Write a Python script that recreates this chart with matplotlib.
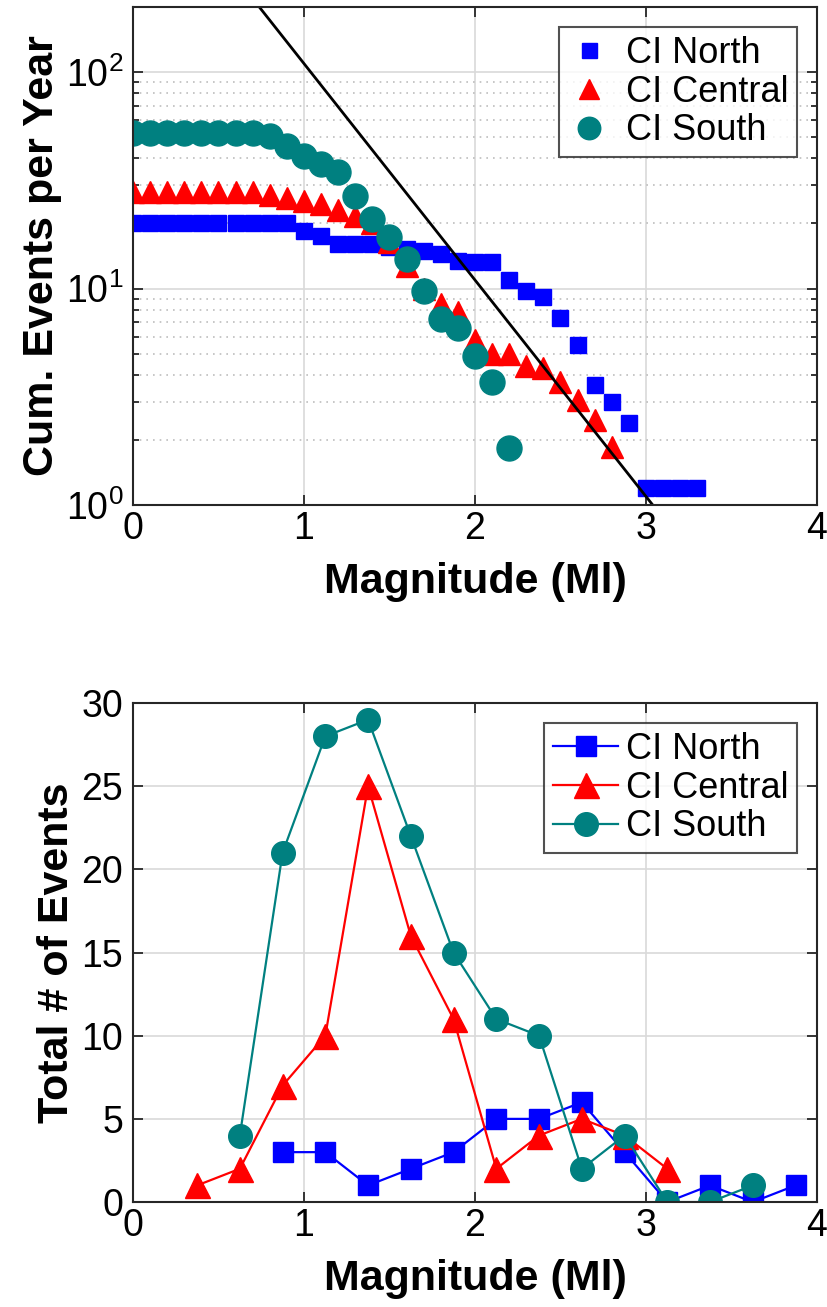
import numpy as np
import matplotlib
matplotlib.use("Agg")
import matplotlib.pyplot as plt
from matplotlib.ticker import LogLocator, NullFormatter

plt.rcParams['font.family'] = ['Liberation Sans', 'DejaVu Sans']
plt.rcParams['mathtext.fontset'] = 'custom'
plt.rcParams['mathtext.rm'] = 'Liberation Sans'

# --- top panel: cumulative events per year, magnitude bins of 0.1 ---
mag_north = np.round(np.arange(0.0, 3.31, 0.1), 1)
cum_north = [20, 20, 20, 20, 20, 20, 20, 20, 20, 20,
             18.5, 17.5, 16, 16, 16, 15.6, 15.3, 14.9, 14.5, 13.4,
             13.3, 13.3, 11, 9.7, 9.1, 7.3, 5.5, 3.6, 3.0, 2.4,
             1.2, 1.2, 1.2, 1.2]

mag_central = np.round(np.arange(0.0, 2.81, 0.1), 1)
cum_central = [28, 28, 28, 28, 28, 28, 28, 28, 27.2, 26.3,
               25.5, 24.6, 23, 21.7, 20, 16.4, 12.7, 10, 8.5, 7.8,
               5.8, 5.0, 5.0, 4.4, 4.3, 3.7, 3.07, 2.48, 1.86]

mag_south = np.round(np.arange(0.0, 2.21, 0.1), 1)
cum_south = [52.6, 52.6, 52.6, 52.6, 52.6, 52.6, 52.6, 52.6, 50.5, 45.8,
             41.2, 37.8, 34.7, 26.9, 21, 17.3, 13.7, 9.7, 7.2, 6.6,
             4.9, 3.7, 1.84]

# Gutenberg-Richter reference line: log10(N) = a - b*M
gr_a = 3.04
gr_b = 1.0
gr_mag = [0.0, 4.0]

# --- bottom panel: event counts per 0.25 magnitude bin ---
bin_north = [0.875, 1.125, 1.375, 1.625, 1.875, 2.125, 2.375, 2.625, 2.875,
             3.125, 3.375, 3.625, 3.875]
cnt_north = [3, 3, 1, 2, 3, 5, 5, 6, 3, 0, 1, 0, 1]

bin_central = [0.375, 0.625, 0.875, 1.125, 1.375, 1.625, 1.875, 2.125, 2.375,
               2.625, 2.875, 3.125]
cnt_central = [1, 2, 7, 10, 25, 16, 11, 2, 4, 5, 4, 2]

bin_south = [0.625, 0.875, 1.125, 1.375, 1.625, 1.875, 2.125, 2.375, 2.625,
             2.875, 3.125, 3.375, 3.625]
cnt_south = [4, 21, 28, 29, 22, 15, 11, 10, 2, 4, 0, 0, 1]

labels = ["CI North", "CI Central", "CI South"]
c_north = (0, 0, 1)
c_central = (1, 0, 0)
c_south = (0, 0.5, 0.5)

fig = plt.figure(figsize=(8.28, 13.07), dpi=100)
ax1 = fig.add_axes([0.1606, 0.6136, 0.826, 0.381])
ax2 = fig.add_axes([0.1606, 0.0803, 0.826, 0.3818])


def style_axes(ax):
    for s in ax.spines.values():
        s.set_linewidth(1.5)
        s.set_color("#262626")
    ax.tick_params(which="both", direction="in", top=True, right=True,
                   labelsize=27, width=1.3, color="#262626", pad=7)
    ax.tick_params(which="major", length=7)
    ax.tick_params(which="minor", length=4)
    ax.tick_params(axis="x", pad=4)
    ax.set_axisbelow(True)


# top
ax1.plot(mag_north, cum_north, "s", color=c_north, ms=12, mec=c_north, label=labels[0])
ax1.plot(mag_central, cum_central, "^", color=c_central, ms=16, mec=c_central, label=labels[1])
ax1.plot(mag_south, cum_south, "o", color=c_south, ms=18, mec=c_south, label=labels[2])
gr_line = [10 ** (gr_a - gr_b * m) for m in gr_mag]
ax1.plot(gr_mag, gr_line, "-", color="k", lw=2)
ax1.set_yscale("log")
ax1.set_xlim(0, 4)
ax1.set_ylim(1, 200)
ax1.set_xticks([0, 1, 2, 3, 4])
ax1.yaxis.set_major_locator(LogLocator(base=10, numticks=10))
ax1.yaxis.set_minor_locator(LogLocator(base=10, subs=np.arange(2, 10), numticks=20))
ax1.yaxis.set_minor_formatter(NullFormatter())
ax1.grid(True, which="major", color="#d9d9d9", lw=1.2)
ax1.grid(True, which="minor", axis="y", color="#bdbdbd", lw=1.2, ls=(0, (1, 3)))
ax1.set_xlabel("Magnitude (Ml)", fontsize=31, fontweight="bold", labelpad=11)
ax1.set_ylabel("Cum. Events per Year", fontsize=31, fontweight="bold", labelpad=3)
style_axes(ax1)
leg1 = ax1.legend(loc="upper right", fontsize=26, frameon=True, fancybox=False,
                  edgecolor="#262626", borderpad=0.25, labelspacing=0.1,
                  handletextpad=0.4, borderaxespad=0.55, markerscale=0.9,
                  handlelength=1.2)
leg1.get_frame().set_linewidth(1.5)

# bottom
ax2.plot(bin_north, cnt_north, "-s", color=c_north, ms=14, lw=1.6, label=labels[0])
ax2.plot(bin_central, cnt_central, "-^", color=c_central, ms=18, lw=1.6, label=labels[1])
ax2.plot(bin_south, cnt_south, "-o", color=c_south, ms=17, lw=1.6, label=labels[2])
ax2.set_xlim(0, 4)
ax2.set_ylim(0, 30)
ax2.set_xticks([0, 1, 2, 3, 4])
ax2.set_yticks([0, 5, 10, 15, 20, 25, 30])
ax2.grid(True, color="#d9d9d9", lw=1.2)
ax2.set_xlabel("Magnitude (Ml)", fontsize=31, fontweight="bold", labelpad=11)
ax2.set_ylabel("Total # of Events", fontsize=31, fontweight="bold", labelpad=3)
style_axes(ax2)
leg2 = ax2.legend(loc="upper right", fontsize=26, frameon=True, fancybox=False,
                  edgecolor="#262626", borderpad=0.25, labelspacing=0.1,
                  handletextpad=0.2, borderaxespad=0.55, handlelength=1.8)
leg2.get_frame().set_linewidth(1.5)

fig.savefig("out.png", dpi=100)
